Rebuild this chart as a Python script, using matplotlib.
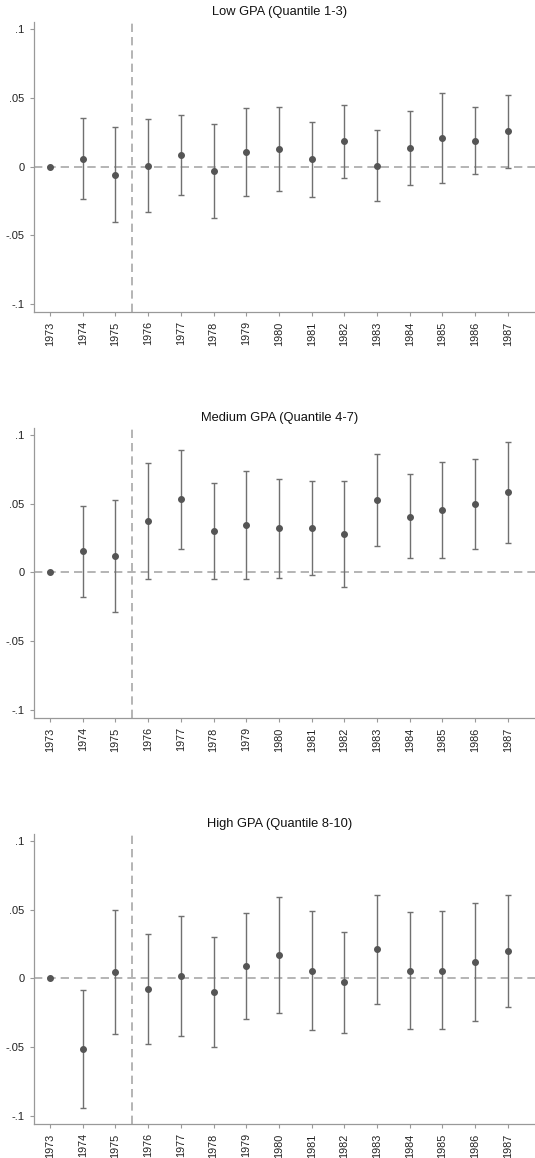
import matplotlib
matplotlib.use("Agg")
import matplotlib.pyplot as plt
import numpy as np

plt.rcParams['font.family'] = ['Liberation Sans', 'DejaVu Sans']

years = list(range(1973, 1988))

titles = ["Low GPA (Quantile 1-3)", "Medium GPA (Quantile 4-7)", "High GPA (Quantile 8-10)"]

# point estimates, upper and lower CI bounds (1973 is the reference year)
low_est = [0, 0.0058, -0.0063, 0.0005, 0.0082, -0.0034, 0.0102, 0.0128, 0.0051, 0.0182, 0.0007, 0.0133, 0.0204, 0.0187, 0.0255]
low_hi = [0, 0.0349, 0.0284, 0.0342, 0.0376, 0.0310, 0.0422, 0.0434, 0.0325, 0.0448, 0.0267, 0.0405, 0.0531, 0.0432, 0.0519]
low_lo = [0, -0.0233, -0.0402, -0.0332, -0.0208, -0.0378, -0.0218, -0.0179, -0.0223, -0.0085, -0.0252, -0.0136, -0.0121, -0.0058, -0.0012]

med_est = [0, 0.0153, 0.0119, 0.0373, 0.0533, 0.0301, 0.0344, 0.0320, 0.0322, 0.0281, 0.0526, 0.0407, 0.0456, 0.0499, 0.0584]
med_hi = [0, 0.0482, 0.0528, 0.0798, 0.0892, 0.0647, 0.0735, 0.0679, 0.0667, 0.0664, 0.0858, 0.0713, 0.0805, 0.0827, 0.0950]
med_lo = [0, -0.0177, -0.0288, -0.0048, 0.0172, -0.0048, -0.0044, -0.0041, -0.0019, -0.0102, 0.0196, 0.0102, 0.0109, 0.0170, 0.0218]

high_est = [0, -0.0513, 0.0046, -0.0077, 0.0015, -0.0099, 0.0092, 0.0172, 0.0058, -0.0029, 0.0213, 0.0053, 0.0058, 0.0119, 0.0199]
high_hi = [0, -0.0082, 0.0499, 0.0327, 0.0455, 0.0303, 0.0479, 0.0593, 0.0489, 0.0337, 0.0608, 0.0482, 0.0489, 0.0547, 0.0605]
high_lo = [0, -0.0944, -0.0402, -0.0479, -0.0421, -0.0499, -0.0295, -0.0249, -0.0373, -0.0397, -0.0182, -0.0370, -0.0368, -0.0307, -0.0208]

panels = [(low_est, low_hi, low_lo), (med_est, med_hi, med_lo), (high_est, high_hi, high_lo)]

fig = plt.figure(figsize=(5.35, 11.58), dpi=100)
bottoms = [0.7303, 0.3797, 0.0291]

for (est, hi, lo), title, b in zip(panels, titles, bottoms):
    ax = fig.add_axes([0.063, b, 0.937, 0.251])
    yrs = np.array(years)
    est = np.array(est)
    hi = np.array(hi)
    lo = np.array(lo)

    ax.axhline(0, color='#a8a8a8', ls=(0, (5, 3)), lw=1.2, zorder=1)
    ax.axvline(1975.5, color='#a8a8a8', ls=(0, (5, 3)), lw=1.2, zorder=1)

    m = yrs > 1973
    ax.errorbar(yrs[m], est[m], yerr=[est[m] - lo[m], hi[m] - est[m]], fmt='none',
                ecolor='#707070', elinewidth=1.0, capsize=2.2, capthick=1.0, zorder=2)
    ax.plot(yrs, est, 'o', color='#555555', ms=4.0, zorder=3)

    ax.set_xlim(1972.5, 1987.83)
    ax.set_ylim(-0.106, 0.1053)
    ax.set_xticks(years)
    ax.set_xticklabels([str(y) for y in years], rotation=90, fontsize=7.8)
    ax.set_yticks([-0.1, -0.05, 0, 0.05, 0.1])
    ax.set_yticklabels(['-.1', '-.05', '0', '.05', '.1'], fontsize=8)
    ax.tick_params(colors='#999999', labelcolor='#222222', length=3, width=0.8)
    for s in ['top', 'right']:
        ax.spines[s].set_visible(False)
    for s in ['left', 'bottom']:
        ax.spines[s].set_color('#999999')
        ax.spines[s].set_linewidth(0.9)
    ax.set_title(title, fontsize=9.3, color='#111111', pad=5, x=0.49)

fig.savefig('out.png', dpi=100)
